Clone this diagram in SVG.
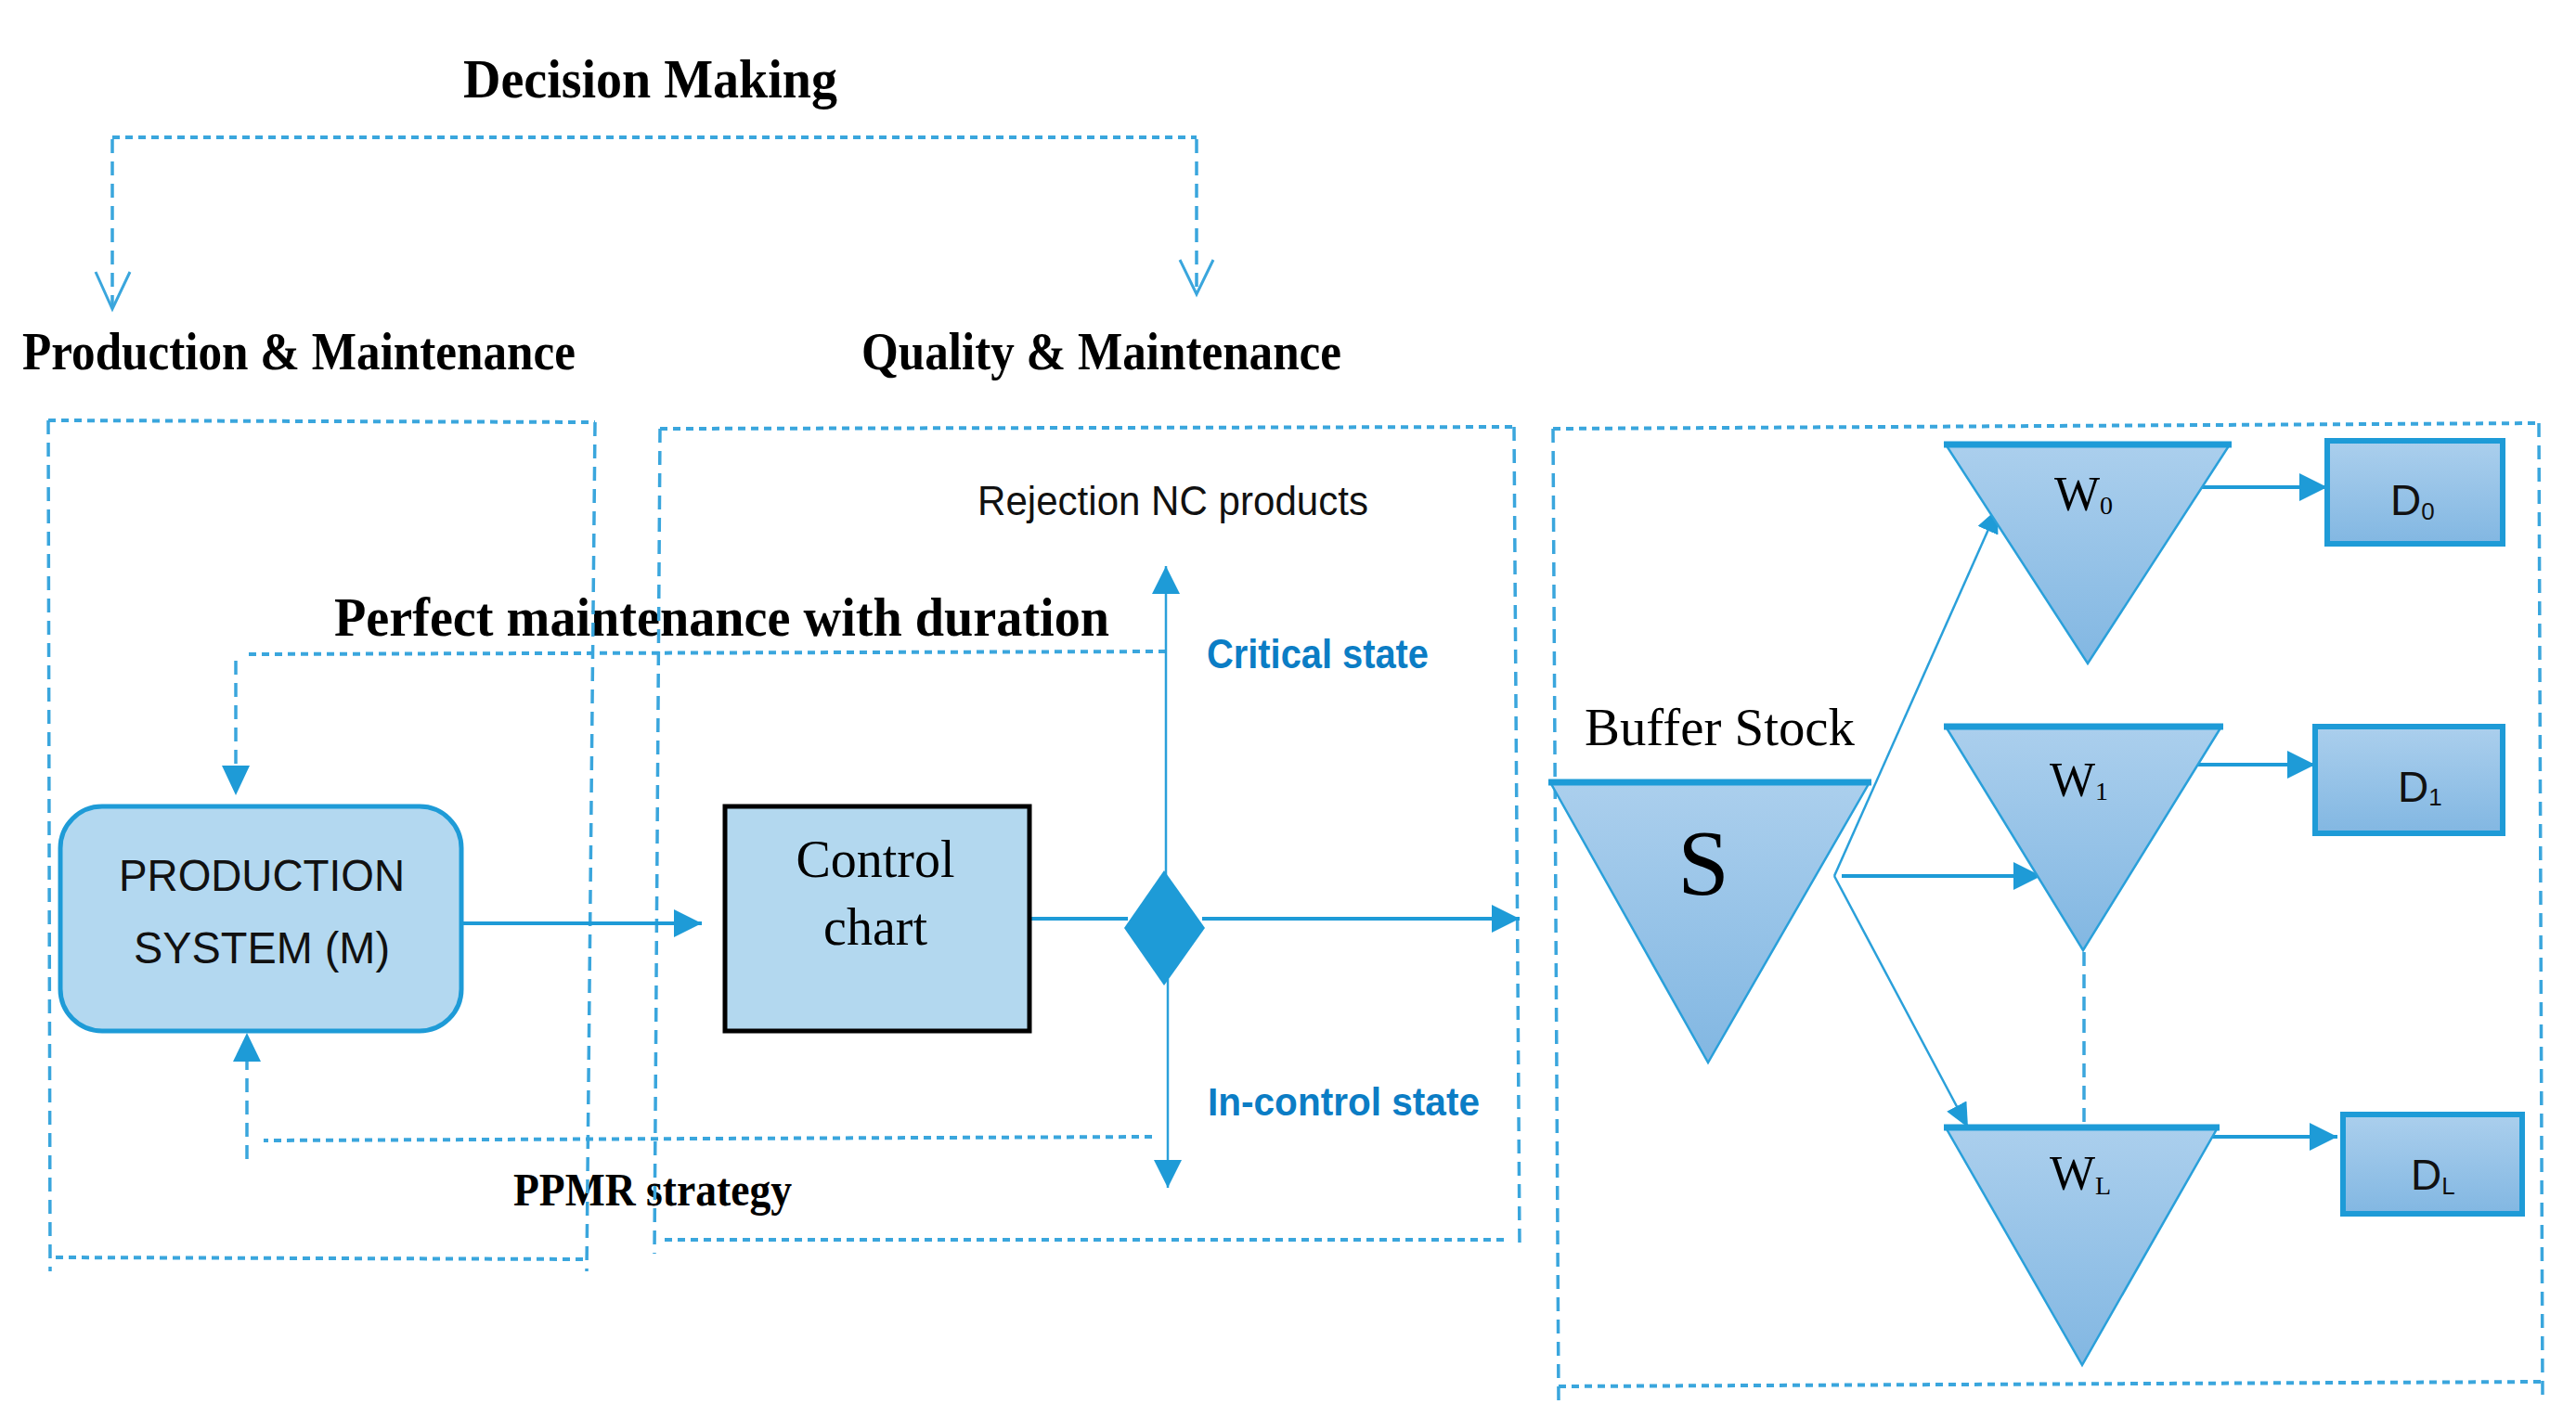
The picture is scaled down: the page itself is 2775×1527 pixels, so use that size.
<svg xmlns="http://www.w3.org/2000/svg" width="2775" height="1527" viewBox="0 0 2775 1527">
<style>
.serifb{font-family:"Liberation Serif","Times New Roman",serif;font-weight:bold;fill:#000}
.serif{font-family:"Liberation Serif","Times New Roman",serif;fill:#000}
.sans{font-family:"Liberation Sans",Arial,sans-serif;fill:#111}
.blue{font-family:"Liberation Sans",Arial,sans-serif;font-weight:bold;fill:#0b7dc5}
.hdot{fill:none;stroke:#3aa6dd;stroke-width:4;stroke-dasharray:8 6}
.vdash{fill:none;stroke:#3aa6dd;stroke-width:3.5;stroke-dasharray:15 9}
.conn{fill:none;stroke:#1e9bd7;stroke-width:4}
.thin{fill:none;stroke:#2aa0da;stroke-width:2.5}
.head{fill:#1e9bd7}
.tri{fill:url(#g);stroke:#2aa0da;stroke-width:2.5}
.tritop{stroke:#1e9bd7;stroke-width:7}
.dbox{fill:url(#g);stroke:#1e9bd7;stroke-width:6}
</style>
<defs>
<linearGradient id="g" x1="0" y1="0" x2="0" y2="1">
<stop offset="0" stop-color="#abcfed"/>
<stop offset="1" stop-color="#82b7e2"/>
</linearGradient>
<marker id="ah" markerUnits="userSpaceOnUse" markerWidth="30" markerHeight="30" refX="30" refY="15" orient="auto">
<path d="M0,0 L30,15 L0,30 Z" fill="#1e9bd7"/>
</marker>
<marker id="ahs" markerUnits="userSpaceOnUse" markerWidth="26" markerHeight="24" refX="26" refY="12" orient="auto">
<path d="M0,0 L26,12 L0,24 Z" fill="#1e9bd7"/>
</marker>
</defs>
<rect width="2775" height="1527" fill="#fff"/>

<g id="labels">
<text class="serifb" x="499" y="105" font-size="60" textLength="403" lengthAdjust="spacingAndGlyphs">Decision Making</text>
<text class="serifb" x="24" y="398" font-size="58" textLength="596" lengthAdjust="spacingAndGlyphs">Production &amp; Maintenance</text>
<text class="serifb" x="928" y="398" font-size="58" textLength="517" lengthAdjust="spacingAndGlyphs">Quality &amp; Maintenance</text>
<text class="serifb" x="360" y="685" font-size="60" textLength="835" lengthAdjust="spacingAndGlyphs">Perfect maintenance with duration</text>
<text class="serifb" x="553" y="1299" font-size="50" textLength="300" lengthAdjust="spacingAndGlyphs">PPMR strategy</text>
<text class="sans" x="1053" y="555" font-size="44" textLength="421" lengthAdjust="spacingAndGlyphs">Rejection NC products</text>
<text class="blue" x="1300" y="720" font-size="44" textLength="239" lengthAdjust="spacingAndGlyphs">Critical state</text>
<text class="blue" x="1301" y="1202" font-size="42" textLength="293" lengthAdjust="spacingAndGlyphs">In-control state</text>
<text class="serif" x="1707" y="803" font-size="56" textLength="291" lengthAdjust="spacingAndGlyphs">Buffer Stock</text>
</g>

<g id="frames">
<path class="hdot" d="M52,453 L641,455"/>
<path class="vdash" d="M52,453 L54,1370"/>
<path class="vdash" d="M641,455 L632,1370"/>
<path class="hdot" d="M60,1355 L632,1357"/>
<path class="hdot" d="M711,462 L1631,460"/>
<path class="vdash" d="M711,462 L705,1351"/>
<path class="vdash" d="M1631,460 L1637,1345"/>
<path class="hdot" d="M716,1336 L1625,1336"/>
<path class="hdot" d="M1673,462 L2735,456"/>
<path class="vdash" d="M1673,462 L1679,1510"/>
<path class="vdash" d="M2735,456 L2739,1505"/>
<path class="hdot" d="M1679,1494 L2739,1489"/>
</g>

<g id="connectors">
<path class="hdot" d="M121,148 H1289"/>
<path class="vdash" d="M121,150 V330"/>
<path class="vdash" d="M1289,150 V314"/>
<polyline points="103,293 121,333 140,293" fill="none" stroke="#3aa6dd" stroke-width="3"/>
<polyline points="1271,280 1289,317 1307,280" fill="none" stroke="#3aa6dd" stroke-width="3"/>

<path class="hdot" d="M1256,702 L265,705"/>
<path class="vdash" d="M254,712 V826"/>
<path class="head" d="M239,825 L269,825 L254,857 Z"/>

<path class="hdot" d="M1241,1225 L284,1229"/>
<path class="vdash" d="M266,1249 V1144"/>
<path class="head" d="M251,1144 L281,1144 L266,1113 Z"/>

<path class="conn" d="M497,995 H756" marker-end="url(#ah)"/>
<path class="conn" d="M1109,990 H1215"/>
<path class="conn" d="M1295,990 H1637" marker-end="url(#ah)"/>
<path class="thin" stroke-width="3" d="M1256,945 V610" marker-end="url(#ah)"/>
<path class="thin" stroke-width="3" d="M1258,1055 V1280" marker-end="url(#ah)"/>

<path class="conn" d="M1984,944 H2199" marker-end="url(#ah)"/>
<path class="thin" d="M1976,944 L2152,548" marker-end="url(#ahs)"/>
<path class="thin" d="M1976,944 L2120,1215" marker-end="url(#ahs)"/>
<path class="conn" d="M2371,525 H2507" marker-end="url(#ah)"/>
<path class="conn" d="M2367,824 H2494" marker-end="url(#ah)"/>
<path class="conn" d="M2382,1225 H2518" marker-end="url(#ah)"/>
<path class="vdash" stroke-width="3" d="M2245,1026 V1210"/>
</g>

<g id="production-system">
<rect x="65" y="869" width="432" height="242" rx="45" fill="#b3d8f0" stroke="#1e9bd7" stroke-width="5"/>
<text class="sans" x="282" y="960" font-size="48" text-anchor="middle" textLength="308" lengthAdjust="spacingAndGlyphs">PRODUCTION</text>
<text class="sans" x="282" y="1038" font-size="48" text-anchor="middle" textLength="276" lengthAdjust="spacingAndGlyphs">SYSTEM (M)</text>
</g>

<g id="control-chart">
<rect x="781" y="869" width="328" height="242" fill="#b3d8ef" stroke="#000" stroke-width="5"/>
<text class="serif" x="943" y="945" font-size="56" text-anchor="middle">Control</text>
<text class="serif" x="943" y="1018" font-size="56" text-anchor="middle">chart</text>
</g>

<g id="decision">
<path d="M1254,938 L1298,1000 L1254,1062 L1211,1000 Z" fill="#1e9bd7"/>
</g>

<g id="buffer-stock-S">
<polygon class="tri" points="1670,843 2014,843 1840,1145"/>
<line class="tritop" x1="1668" y1="843" x2="2016" y2="843"/>
<text class="serif" x="1835" y="963" font-size="100" text-anchor="middle">S</text>
</g>

<g id="W0">
<polygon class="tri" points="2096,479 2402,479 2249,715"/>
<line class="tritop" x1="2094" y1="479" x2="2404" y2="479"/>
<text class="serif" x="2213" y="550" font-size="52">W<tspan font-size="28" dy="4">0</tspan></text>
</g>
<g id="W1">
<polygon class="tri" points="2096,783 2393,783 2244,1024"/>
<line class="tritop" x1="2094" y1="783" x2="2395" y2="783"/>
<text class="serif" x="2208" y="858" font-size="52">W<tspan font-size="28" dy="4">1</tspan></text>
</g>
<g id="WL">
<polygon class="tri" points="2096,1215 2389,1215 2243,1471"/>
<line class="tritop" x1="2094" y1="1215" x2="2391" y2="1215"/>
<text class="serif" x="2208" y="1282" font-size="52">W<tspan font-size="28" dy="5">L</tspan></text>
</g>

<g id="D0">
<rect class="dbox" x="2507" y="475" width="189" height="111"/>
<text class="sans" x="2575" y="555" font-size="46">D<tspan font-size="26" dy="5">0</tspan></text>
</g>
<g id="D1">
<rect class="dbox" x="2494" y="783" width="202" height="115"/>
<text class="sans" x="2583" y="864" font-size="46">D<tspan font-size="26" dy="4">1</tspan></text>
</g>
<g id="DL">
<rect class="dbox" x="2524" y="1201" width="193" height="107"/>
<text class="sans" x="2597" y="1282" font-size="46">D<tspan font-size="26" dy="5">L</tspan></text>
</g>
</svg>
